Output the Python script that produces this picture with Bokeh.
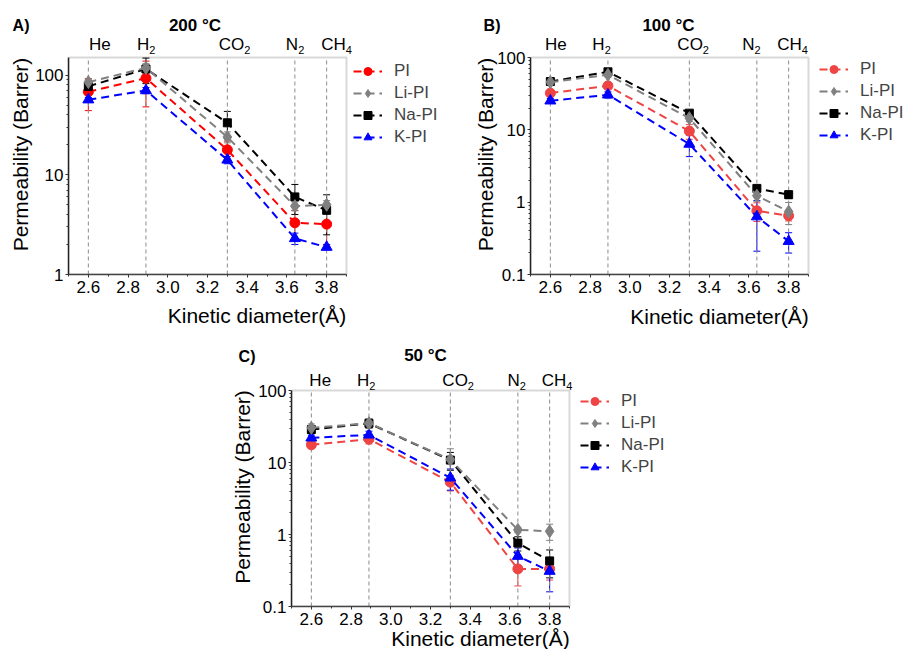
import math
from bokeh.plotting import figure
from bokeh.models import (ColumnDataSource, Legend, LegendItem, Whisker, BoxAnnotation,
                          TeeHead, FixedTicker, Range1d, Spacer, Title)
from bokeh.core.properties import value
from bokeh.layouts import column, row
from bokeh.embed import file_html
from bokeh.resources import INLINE

# ---------------- data ----------------
gas_main = ["He", "H", "CO", "N", "CH"]
gas_sub = ["", "2", "2", "2", "4"]
kinetic_diameter = [2.6, 2.89, 3.3, 3.64, 3.8]
series_names = ["PI", "Li-PI", "Na-PI", "K-PI"]

# 200 °C
pi_200 = [68, 93, 17.8, 3.3, 3.2]
pi_200_err = [24, 45, 4.0, 1.1, 1.2]
li_200 = [85, 118, 23.9, 4.85, 5.0]
li_200_err = [6, 12, 3.0, 0.5, 0.5]
na_200 = [77, 115, 33.2, 6.0, 4.4]
na_200_err = [5, 33, 10, 2.0, 1.9]
k_200 = [56.6, 70, 14.1, 2.3, 1.88]
k_200_err = [3, 5, 1.2, 0.3, 0.1]

# 100 °C
pi_100 = [32.2, 40.6, 9.6, 0.76, 0.65]
pi_100_err = [3, 4, 2.2, 0.22, 0.1]
li_100 = [45.6, 57.6, 14.5, 1.23, 0.74]
li_100_err = [3, 4, 1.5, 0.2, 0.25]
na_100 = [46.5, 63.4, 17.0, 1.55, 1.27]
na_100_err = [3, 4, 1.5, 0.15, 0.15]
k_100 = [25.2, 30.5, 6.36, 0.63, 0.288]
k_100_err = [2, 3, 2.1, 0.42, 0.09]

# 50 °C
pi_50 = [17.6, 21.1, 5.33, 0.333, 0.333]
pi_50_err = [2, 3, 1.3, 0.14, 0.1]
li_50 = [30.3, 35.1, 11.0, 1.16, 1.11]
li_50_err = [4, 5, 4.5, 0.1, 0.28]
na_50 = [28.7, 35.0, 10.8, 0.76, 0.43]
na_50_err = [3, 5, 3, 0.17, 0.18]
k_50 = [22.0, 24.2, 6.12, 0.5, 0.31]
k_50_err = [2, 3, 2, 0.15, 0.15]

x_ticks = [2.6, 2.8, 3.0, 3.2, 3.4, 3.6, 3.8]
x_minor = [2.5, 2.7, 2.9, 3.1, 3.3, 3.5, 3.7, 3.9]

FONT = "Liberation Sans"
FRAME_W = 278
X0, X1 = 2.5, 3.9
PPU = FRAME_W / (X1 - X0)


def make_header(cfg):
    w, h, left = cfg["width"], cfg["head"], cfg["left"]
    hd = figure(width=w, height=h, x_range=Range1d(left, w), y_range=Range1d(0, h),
                x_axis_location=None, y_axis_location="left", output_backend="svg",
                toolbar_location=None, title=None,
                min_border_left=left, min_border_right=0, min_border_top=0,
                min_border_bottom=0)
    hd.xgrid.visible = False
    hd.ygrid.visible = False
    hd.outline_line_color = None
    hd.background_fill_color = "white"
    hd.border_fill_color = "white"

    # panel tag drawn as the single tick label of an invisible axis
    ax = hd.yaxis[0]
    ax.ticker = FixedTicker(ticks=[cfg["tag_y"]], minor_ticks=[])
    ax.major_label_overrides = {cfg["tag_y"]: cfg["tag"]}
    ax.axis_line_color = None
    ax.major_tick_line_color = None
    ax.minor_tick_line_color = None
    ax.major_tick_out = 0
    ax.major_tick_in = 0
    ax.major_label_standoff = cfg["tag_so"]
    ax.major_label_text_font = FONT
    ax.major_label_text_font_size = "16px"
    ax.major_label_text_font_style = "bold"
    ax.major_label_text_color = "black"

    hd.text(x=[cfg["title_x"]], y=[cfg["title_y"]], text=[cfg["title"]],
            text_font=value(FONT), text_font_size="17px", text_font_style="bold",
            text_align="center", text_baseline="middle", text_color="black")
    return hd


def make_panel(cfg, series):
    ymin, ymax = cfg["ylim"]
    ext = cfg["top"] - cfg["head"]          # px of frame above the plot box
    box_h = cfg["box_h"]
    ppd = box_h / math.log10(ymax / ymin)

    def y_above(px):
        return 10 ** (math.log10(ymax) + px / ppd)

    height = cfg["height"] - cfg["head"]
    x_end = X0 + (cfg["width"] - cfg["left"]) / PPU
    p = figure(width=cfg["width"], height=height,
               x_range=Range1d(X0, x_end), y_range=Range1d(ymin, y_above(ext)),
               y_axis_type="log", output_backend="svg", toolbar_location=None, title=None,
               min_border_left=cfg["left"], min_border_right=0,
               min_border_top=0, min_border_bottom=cfg["bottom"])
    p.xgrid.visible = False
    p.ygrid.visible = False
    p.outline_line_color = None
    p.background_fill_color = "white"
    p.border_fill_color = "white"

    # plot box outline
    p.add_layout(BoxAnnotation(left=X0, right=X1, bottom=ymin, top=ymax, fill_alpha=0,
                               line_color="#7f7f7f", line_width=2, level="underlay"))

    # axes
    xa = p.xaxis[0]
    xa.bounds = (X0, X1)
    xa.ticker = FixedTicker(ticks=x_ticks, minor_ticks=x_minor)
    xa.major_label_overrides = {t: f"{t:.1f}" for t in x_ticks}
    ya_ax = p.yaxis[0]
    ya_ax.bounds = (ymin, ymax)
    decs = [d for d in [0.1, 1, 10, 100] if ymin <= d <= ymax * 1.0001]
    minors = []
    for d in [0.1, 1, 10, 100]:
        for m in range(2, 10):
            v = d * m
            if ymin < v < ymax:
                minors.append(v)
    ya_ax.ticker = FixedTicker(ticks=decs, minor_ticks=minors)
    ya_ax.major_label_overrides = {d: ("0.1" if d == 0.1 else str(int(d))) for d in decs}
    for ax in (xa, ya_ax):
        ax.major_tick_out = 3
        ax.major_tick_in = 0
        ax.minor_tick_out = 2
        ax.minor_tick_in = 0
        ax.major_label_text_font = FONT
        ax.major_label_text_font_size = "17px"
        ax.major_label_text_color = "black"
        ax.axis_line_width = 1.5
        ax.major_tick_line_color = "#333333"
        ax.minor_tick_line_color = "#333333"
    xa.axis_line_color = "#444444"
    ya_ax.axis_line_color = "#222222"
    xa.major_label_standoff = 3
    ya_ax.major_label_standoff = 2

    # axis titles, centred on the plot box
    p.add_layout(Title(text="Kinetic diameter(Å)", align="center", offset=cfg["xlab_off"],
                       standoff=cfg["xlab_so"], text_font=FONT, text_font_size="21px",
                       text_font_style="normal", text_color="black"), "below")
    p.add_layout(Title(text="Permeability (Barrer)", align="center", offset=cfg["ylab_off"],
                       standoff=cfg["ylab_so"], text_font=FONT, text_font_size="21px",
                       text_font_style="normal", text_color="black"), "left")

    # vertical gas lines inside the plot box
    p.segment(x0=kinetic_diameter, y0=[ymin] * len(kinetic_diameter),
              x1=kinetic_diameter, y1=[ymax] * len(kinetic_diameter),
              line_color="#8c8c8c", line_dash="4 3", line_width=1)

    # gas names above the box
    main_w = {"He": 24.1, "H": 12.3, "CO": 25.5, "N": 12.3, "CH": 24.5}
    gsrc = ColumnDataSource(dict(x=kinetic_diameter, text=gas_main,
                                 y=[y_above(cfg["gas_up"])] * len(gas_main),
                                 dx=cfg["gas_off"]))
    p.text(x="x", y="y", text="text", x_offset="dx", source=gsrc, text_font=value(FONT),
           text_font_size="17px", text_align="left", text_baseline="middle",
           text_color="black")
    sub_x = [x for x, s in zip(kinetic_diameter, gas_sub) if s]
    sub_t = [s for s in gas_sub if s]
    sub_dx = [o + main_w[m] for o, m, s in zip(cfg["gas_off"], gas_main, gas_sub) if s]
    ssrc = ColumnDataSource(dict(x=sub_x, text=sub_t, dx=sub_dx,
                                 y=[y_above(cfg["sub_up"])] * len(sub_x)))
    p.text(x="x", y="y", text="text", x_offset="dx", source=ssrc, text_font=value(FONT),
           text_font_size="11px", text_align="left", text_baseline="middle",
           text_color="black")

    # series
    colors = {"PI": cfg["pi_color"], "Li-PI": "#808080", "Na-PI": "#000000", "K-PI": "#0000ff"}
    order = ["PI", "K-PI", "Na-PI", "Li-PI"]
    rends = {}
    for name in order:
        vals, errs = series[name]
        c = colors[name]
        src = ColumnDataSource(dict(x=kinetic_diameter, y=vals,
                                    upper=[v + e for v, e in zip(vals, errs)],
                                    lower=[v - e for v, e in zip(vals, errs)]))
        lr = p.line("x", "y", source=src, line_color=c, line_width=2, line_dash="8 5")
        w = Whisker(source=src, base="x", upper="upper", lower="lower",
                    line_color=c, line_width=1,
                    upper_head=TeeHead(size=7, line_color=c, line_width=1),
                    lower_head=TeeHead(size=7, line_color=c, line_width=1))
        p.add_layout(w)
        if name == "PI":
            sr = p.scatter("x", "y", source=src, marker="circle", size=10,
                           fill_color=c, line_color=c)
        elif name == "Li-PI":
            sr = p.scatter("x", "y", source=src, marker="diamond", size=13,
                           fill_color=c, line_color=c)
        elif name == "Na-PI":
            sr = p.scatter("x", "y", source=src, marker="square", size=8,
                           fill_color=c, line_color=c)
        else:
            sr = p.scatter("x", "y", source=src, marker="triangle", size=11,
                           fill_color=c, line_color=c)
        rends[name] = [lr, sr]

    items = [LegendItem(label=n, renderers=rends[n]) for n in series_names]
    lx, ly = cfg["legend_loc"]
    lg = Legend(items=items, location=(FRAME_W + lx, ly), padding=0, margin=0,
                spacing=2, label_height=20, glyph_height=20, glyph_width=29,
                label_standoff=12, border_line_color=None, background_fill_alpha=0,
                label_text_font=FONT, label_text_font_size="17px")
    p.add_layout(lg, "center")
    return p


cfgA = dict(width=445, height=335, left=68, top=57, head=34, box_h=217, bottom=61,
            ylim=(1, 150), xlab_so=12, xlab_off=-49.5, ylab_so=1, ylab_off=-9.5,
            pi_color="#ff0000", legend_loc=(7, 127),
            gas_off=[0.6, -9, -8.7, -9, -5.3], gas_up=13, sub_up=7.5,
            title="200 °C", title_x=194.5, title_y=9.5,
            tag="A)", tag_y=9, tag_so=39)
cfgB = dict(width=463, height=335, left=85, top=57, head=34, box_h=217, bottom=61,
            ylim=(0.1, 100), xlab_so=15, xlab_off=-55, ylab_so=-5, ylab_off=-9.3,
            pi_color="#ef4444", legend_loc=(11, 129),
            gas_off=[-5.3, -15.6, -12, -14.7, -11.3], gas_up=13.3, sub_up=7.8,
            title="100 °C", title_x=223, title_y=9.5,
            tag="B)", tag_y=9, tag_so=30)
cfgC = dict(width=449, height=314, left=71, top=55, head=32, box_h=216, bottom=43,
            ylim=(0.1, 100), xlab_so=-5, xlab_off=-45, ylab_so=3, ylab_off=-10,
            pi_color="#ef4444", legend_loc=(11, 129),
            gas_off=[-2, -12, -8, -10.3, -8], gas_up=10.3, sub_up=5,
            title="50 °C", title_x=205, title_y=12.5,
            tag="C)", tag_y=11, tag_so=36)

pA = make_panel(cfgA, {"PI": (pi_200, pi_200_err), "Li-PI": (li_200, li_200_err),
                       "Na-PI": (na_200, na_200_err), "K-PI": (k_200, k_200_err)})
pB = make_panel(cfgB, {"PI": (pi_100, pi_100_err), "Li-PI": (li_100, li_100_err),
                       "Na-PI": (na_100, na_100_err), "K-PI": (k_100, k_100_err)})
pC = make_panel(cfgC, {"PI": (pi_50, pi_50_err), "Li-PI": (li_50, li_50_err),
                       "Na-PI": (na_50, na_50_err), "K-PI": (k_50, k_50_err)})

layout = column(
    row(column(make_header(cfgA), pA), column(make_header(cfgB), pB)),
    row(Spacer(width=220, height=314), column(make_header(cfgC), pC)),
)
open("out.html", "w").write(file_html(layout, INLINE))
